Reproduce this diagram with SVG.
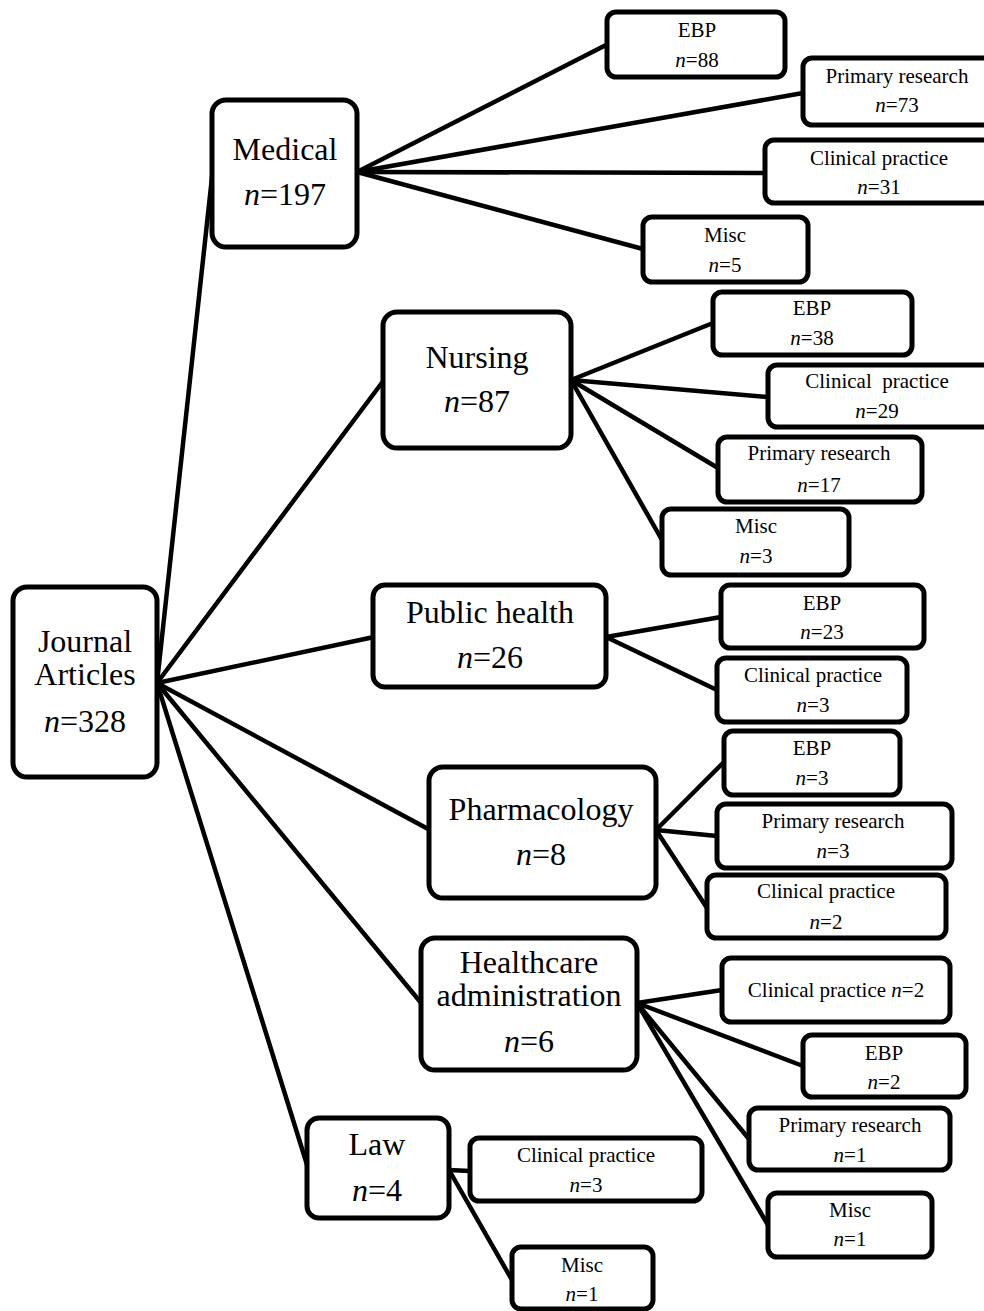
<svg xmlns="http://www.w3.org/2000/svg" width="984" height="1311" viewBox="0 0 984 1311">
<style>
rect.b{fill:#fff;stroke:#000;stroke-width:5}
text{font-family:"Liberation Serif","Times New Roman",serif;fill:#000;text-anchor:middle}
text.L{font-size:32px}
text.s{font-size:21px}
.i{font-style:italic}
#connectors line{stroke:#000;stroke-width:4.5;stroke-linecap:round}
</style>
<rect width="984" height="1311" fill="#fff"/>
<g id="connectors">
<line x1="157" y1="683" x2="213" y2="168"/>
<line x1="157" y1="683" x2="384" y2="380"/>
<line x1="157" y1="683" x2="374" y2="637"/>
<line x1="157" y1="683" x2="430" y2="830"/>
<line x1="157" y1="683" x2="422" y2="1004"/>
<line x1="157" y1="683" x2="308" y2="1168"/>
<line x1="357" y1="172" x2="608" y2="44"/>
<line x1="357" y1="172" x2="803" y2="93"/>
<line x1="357" y1="172" x2="765" y2="173"/>
<line x1="357" y1="172" x2="643" y2="249"/>
<line x1="571" y1="380" x2="713" y2="323"/>
<line x1="571" y1="380" x2="768" y2="397"/>
<line x1="571" y1="380" x2="718" y2="468"/>
<line x1="571" y1="380" x2="662" y2="540"/>
<line x1="606" y1="637" x2="721" y2="617"/>
<line x1="606" y1="637" x2="717" y2="690"/>
<line x1="656" y1="830" x2="724" y2="762"/>
<line x1="656" y1="830" x2="717" y2="836"/>
<line x1="656" y1="830" x2="707" y2="908"/>
<line x1="637" y1="1003" x2="722" y2="990"/>
<line x1="637" y1="1003" x2="803" y2="1066"/>
<line x1="637" y1="1003" x2="749" y2="1139"/>
<line x1="637" y1="1003" x2="768" y2="1225"/>
<line x1="449" y1="1170" x2="470" y2="1171"/>
<line x1="449" y1="1170" x2="512" y2="1280"/>
</g>
<g id="journal"><rect class="b" x="13" y="587" width="144" height="190" rx="14"/>
<text class="L" x="85" y="652">Journal</text><text class="L" x="85" y="685">Articles</text><text class="L" x="85" y="732"><tspan class="i">n</tspan>=328</text></g>
<g id="medical"><rect class="b" x="212" y="100" width="145" height="147" rx="14"/>
<text class="L" x="285" y="160">Medical</text><text class="L" x="285" y="205"><tspan class="i">n</tspan>=197</text></g>
<g id="nursing"><rect class="b" x="383" y="312" width="188" height="136" rx="14"/>
<text class="L" x="477" y="368">Nursing</text><text class="L" x="477" y="412"><tspan class="i">n</tspan>=87</text></g>
<g id="public"><rect class="b" x="373" y="585" width="233" height="102" rx="12"/>
<text class="L" x="490" y="623">Public health</text><text class="L" x="490" y="668"><tspan class="i">n</tspan>=26</text></g>
<g id="pharm"><rect class="b" x="429" y="767" width="227" height="131" rx="14"/>
<text class="L" x="541" y="820">Pharmacology</text><text class="L" x="541" y="865"><tspan class="i">n</tspan>=8</text></g>
<g id="health"><rect class="b" x="421" y="938" width="216" height="132" rx="14"/>
<text class="L" x="529" y="973">Healthcare</text><text class="L" x="529" y="1006">administration</text><text class="L" x="529" y="1052"><tspan class="i">n</tspan>=6</text></g>
<g id="law"><rect class="b" x="307" y="1118" width="142" height="100" rx="12"/>
<text class="L" x="377" y="1155">Law</text><text class="L" x="377" y="1201"><tspan class="i">n</tspan>=4</text></g>

<g id="m_ebp"><rect class="b" x="607" y="12" width="178" height="65" rx="9"/>
<text class="s" x="697" y="37">EBP</text><text class="s" x="697" y="67"><tspan class="i">n</tspan>=88</text></g>
<g id="m_pr"><rect class="b" x="803" y="58" width="200" height="67" rx="9"/>
<text class="s" x="897" y="83">Primary research</text><text class="s" x="897" y="112"><tspan class="i">n</tspan>=73</text></g>
<g id="m_cp"><rect class="b" x="765" y="140" width="240" height="63" rx="9"/>
<text class="s" x="879" y="165">Clinical practice</text><text class="s" x="879" y="194"><tspan class="i">n</tspan>=31</text></g>
<g id="m_misc"><rect class="b" x="643" y="217" width="165" height="65" rx="9"/>
<text class="s" x="725" y="242">Misc</text><text class="s" x="725" y="272"><tspan class="i">n</tspan>=5</text></g>

<g id="n_ebp"><rect class="b" x="713" y="292" width="199" height="63" rx="9"/>
<text class="s" x="812" y="315">EBP</text><text class="s" x="812" y="345"><tspan class="i">n</tspan>=38</text></g>
<g id="n_cp"><rect class="b" x="768" y="365" width="240" height="62" rx="9"/>
<text class="s" x="877" y="388">Clinical&#160; practice</text><text class="s" x="877" y="418"><tspan class="i">n</tspan>=29</text></g>
<g id="n_pr"><rect class="b" x="718" y="437" width="204" height="65" rx="9"/>
<text class="s" x="819" y="460">Primary research</text><text class="s" x="819" y="492"><tspan class="i">n</tspan>=17</text></g>
<g id="n_misc"><rect class="b" x="662" y="509" width="187" height="66" rx="9"/>
<text class="s" x="756" y="533">Misc</text><text class="s" x="756" y="563"><tspan class="i">n</tspan>=3</text></g>

<g id="p_ebp"><rect class="b" x="721" y="585" width="203" height="63" rx="9"/>
<text class="s" x="822" y="610">EBP</text><text class="s" x="822" y="639"><tspan class="i">n</tspan>=23</text></g>
<g id="p_cp"><rect class="b" x="717" y="658" width="190" height="64" rx="9"/>
<text class="s" x="813" y="682">Clinical practice</text><text class="s" x="813" y="712"><tspan class="i">n</tspan>=3</text></g>

<g id="ph_ebp"><rect class="b" x="724" y="731" width="176" height="64" rx="9"/>
<text class="s" x="812" y="755">EBP</text><text class="s" x="812" y="785"><tspan class="i">n</tspan>=3</text></g>
<g id="ph_pr"><rect class="b" x="717" y="804" width="235" height="64" rx="9"/>
<text class="s" x="833" y="828">Primary research</text><text class="s" x="833" y="858"><tspan class="i">n</tspan>=3</text></g>
<g id="ph_cp"><rect class="b" x="707" y="875" width="239" height="63" rx="9"/>
<text class="s" x="826" y="898">Clinical practice</text><text class="s" x="826" y="929"><tspan class="i">n</tspan>=2</text></g>

<g id="h_cp"><rect class="b" x="722" y="958" width="228" height="64" rx="9"/>
<text class="s" x="836" y="997">Clinical practice <tspan class="i">n</tspan>=2</text></g>
<g id="h_ebp"><rect class="b" x="803" y="1035" width="163" height="62" rx="9"/>
<text class="s" x="884" y="1060">EBP</text><text class="s" x="884" y="1089"><tspan class="i">n</tspan>=2</text></g>
<g id="h_pr"><rect class="b" x="749" y="1108" width="201" height="62" rx="9"/>
<text class="s" x="850" y="1132">Primary research</text><text class="s" x="850" y="1162"><tspan class="i">n</tspan>=1</text></g>
<g id="h_misc"><rect class="b" x="768" y="1193" width="164" height="64" rx="9"/>
<text class="s" x="850" y="1217">Misc</text><text class="s" x="850" y="1246"><tspan class="i">n</tspan>=1</text></g>

<g id="l_cp"><rect class="b" x="470" y="1138" width="232" height="63" rx="9"/>
<text class="s" x="586" y="1162">Clinical practice</text><text class="s" x="586" y="1192"><tspan class="i">n</tspan>=3</text></g>
<g id="l_misc"><rect class="b" x="512" y="1247" width="141" height="62" rx="9"/>
<text class="s" x="582" y="1272">Misc</text><text class="s" x="582" y="1301"><tspan class="i">n</tspan>=1</text></g>
</svg>
